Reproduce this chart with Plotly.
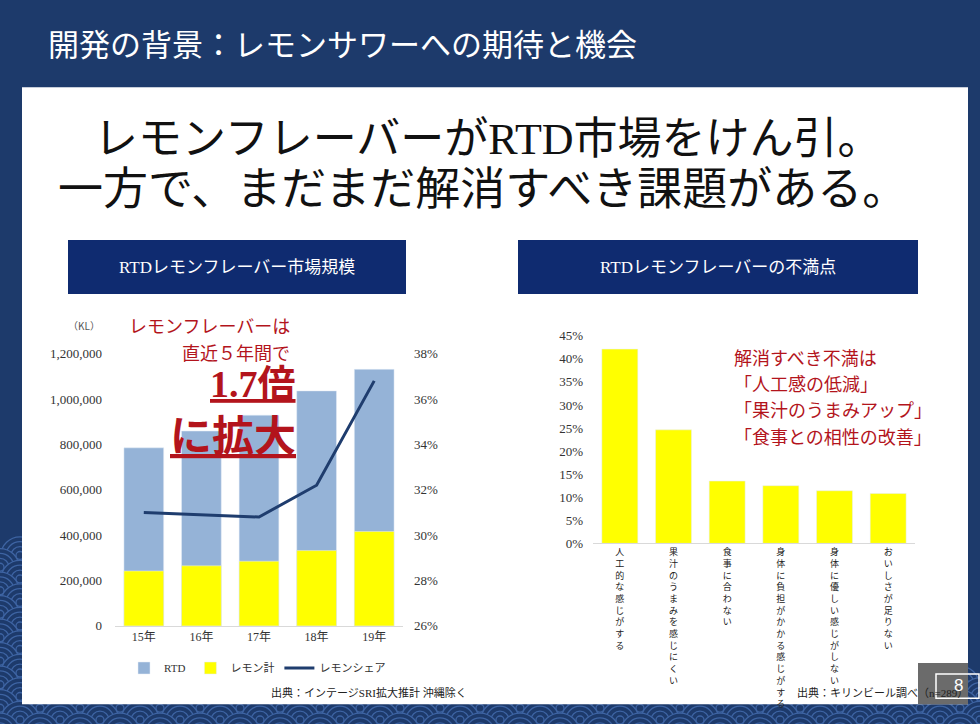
import plotly.graph_objects as go

W, H = 980, 724

# ---------------- data ----------------
years = ["15年", "16年", "17年", "18年", "19年"]
rtd_total = [785000, 859000, 929000, 1036000, 1131000]
lemon_total = [242000, 265000, 285000, 332000, 416000]
lemon_share = [0.310, 0.309, 0.308, 0.322, 0.368]

left_y_ticks = [0, 200000, 400000, 600000, 800000, 1000000, 1200000]
right_y_ticks = [0.26, 0.28, 0.30, 0.32, 0.34, 0.36, 0.38]

complaints = ["人工的な感じがする", "果汁のうまみを感じにくい", "食事に合わない",
              "身体に負担がかかる感じがする", "身体に優しい感じがしない", "おいしさが足りない"]
complaint_pct = [0.421, 0.246, 0.135, 0.125, 0.114, 0.108]
pct_ticks = [0, 0.05, 0.10, 0.15, 0.20, 0.25, 0.30, 0.35, 0.40, 0.45]

# ---------------- helpers ----------------
def px(x):
    return x / W

def py(y):
    return 1 - y / H

SERIF = "Liberation Serif, Noto Sans CJK JP"
JP = "Noto Sans CJK JP"
NAVY_BG = "#1d3a6b"
WAVE = "#3e64a3"
BOX = "#0f2b70"
RED = "#b3141c"
TXT = "#333333"

fig = go.Figure()

# left chart
fig.add_trace(go.Bar(x=years, y=rtd_total, name="RTD", marker_color="#95b3d7",
                     width=0.69, xaxis="x", yaxis="y"))
fig.add_trace(go.Bar(x=years, y=lemon_total, name="レモン計", marker_color="#ffff00",
                     width=0.69, xaxis="x", yaxis="y"))
fig.add_trace(go.Scatter(x=years, y=lemon_share, name="レモンシェア", mode="lines",
                         line=dict(color="#1f3d6e", width=3), xaxis="x", yaxis="y2"))

# right chart
vert_labels = ["<br>".join(list(s)) for s in complaints]
fig.add_trace(go.Bar(x=complaints, y=complaint_pct, marker_color="#ffff00", width=0.67,
                     showlegend=False, xaxis="x2", yaxis="y3"))

tickfont = dict(family=SERIF, size=13, color=TXT)

fig.update_layout(
    width=W, height=H,
    margin=dict(l=0, r=0, t=0, b=0),
    paper_bgcolor=NAVY_BG,
    plot_bgcolor="rgba(0,0,0,0)",
    barmode="overlay",
    showlegend=True,
    legend=dict(orientation="h", x=px(124), y=py(675), xanchor="left", yanchor="middle",
                font=dict(family=SERIF, size=11, color=TXT), bgcolor="rgba(0,0,0,0)",
                itemwidth=30, traceorder="normal"),
    xaxis=dict(domain=[px(115), px(403)], anchor="y", showgrid=False, showline=True,
               linecolor="#d9d9d9", linewidth=1, ticks="", tickfont=dict(family=SERIF, size=12, color=TXT),
               fixedrange=True),
    yaxis=dict(domain=[py(632), py(354)], range=[0, 1200000], tickvals=left_y_ticks,
               tickformat=",", showgrid=False, zeroline=False, showline=False,
               tickfont=tickfont, ticklabelstandoff=12),
    yaxis2=dict(overlaying="y", side="right", anchor="x", range=[0.26, 0.38],
                tickvals=right_y_ticks, tickformat=".0%", showgrid=False, zeroline=False,
                showline=False, tickfont=tickfont, ticklabelstandoff=10),
    xaxis2=dict(domain=[px(593), px(915)], anchor="y3", showgrid=False, showline=True,
                linecolor="#d9d9d9", linewidth=1, ticks="",
                tickvals=complaints, ticktext=vert_labels,
                tickfont=dict(family=JP, size=9, color="#222222")),
    yaxis3=dict(domain=[py(547.7), py(335.7)], range=[0, 0.45], tickvals=pct_ticks,
                tickformat=".0%", showgrid=False, zeroline=False, showline=False,
                tickfont=tickfont, ticklabelstandoff=9, anchor="x2"),
)

shapes = []
# decorative seigaiha waves on the navy frame (covered by the white panel)
for r, yc in enumerate(range(560, 752, 12)):
    off = 0 if r % 2 == 0 else 20
    for xc in range(-20 + off, 1010, 40):
        if not (xc < 60 or yc > 690):
            continue
        for rad in (19, 14, 9, 4):
            shapes.append(dict(type="circle", xref="paper", yref="paper",
                               x0=px(xc - rad), x1=px(xc + rad),
                               y0=py(yc + rad), y1=py(yc - rad),
                               fillcolor=NAVY_BG, line=dict(color=WAVE, width=1.3),
                               layer="below"))
# white panel
shapes.append(dict(type="rect", xref="paper", yref="paper", x0=px(22), x1=px(968),
                   y0=py(712), y1=py(82), fillcolor="white", line_width=0, layer="below"))
# header boxes
shapes.append(dict(type="rect", xref="paper", yref="paper", x0=px(68), x1=px(406),
                   y0=py(293), y1=py(238), fillcolor=BOX, line_width=0, layer="below"))
shapes.append(dict(type="rect", xref="paper", yref="paper", x0=px(518), x1=px(918),
                   y0=py(293), y1=py(238), fillcolor=BOX, line_width=0, layer="below"))
# page number box
shapes.append(dict(type="rect", xref="paper", yref="paper", x0=px(918), x1=px(968),
                   y0=py(712), y1=py(670), fillcolor="#6b6b6b", line_width=0, layer="above"))
shapes.append(dict(type="rect", xref="paper", yref="paper", x0=px(936), x1=px(979),
                   y0=py(706), y1=py(681), fillcolor="rgba(0,0,0,0)",
                   line=dict(color="white", width=1.5), layer="above"))
fig.update_layout(shapes=shapes)

ann = []
def add(text, x, y, size, color=TXT, family=JP, xanchor="left", yanchor="middle"):
    ann.append(dict(text=text, x=px(x), y=py(y), xref="paper", yref="paper",
                    showarrow=False, xanchor=xanchor, yanchor=yanchor,
                    font=dict(family=family, size=size, color=color)))

add("開発の背景：レモンサワーへの期待と機会", 46, 39, 31, color="white", family=SERIF)
add("レモンフレーバーがRTD市場をけん引。", 488, 135, 44, color="#111111", family=SERIF, xanchor="center")
add("一方で、まだまだ解消すべき課題がある。", 482, 187, 45, color="#111111", family=SERIF, xanchor="center")
add("RTDレモンフレーバー市場規模", 237, 266, 17, color="white", family=SERIF, xanchor="center")
add("RTDレモンフレーバーの不満点", 718, 266, 17, color="white", family=SERIF, xanchor="center")

add("（KL）", 84, 325, 10, color="#555555", xanchor="center")
add("レモンフレーバーは", 292, 325, 18, color=RED, xanchor="right")
add("直近５年間で", 292, 352, 18, color=RED, xanchor="right")
add("<b><u>1.7倍</u></b>", 298, 385, 38, color=RED, family=SERIF, xanchor="right")
add("<b><u>に拡大</u></b>", 298, 434, 42, color=RED, xanchor="right")

add("解消すべき不満は", 732, 357, 18, color=RED)
add("「人工感の低減」", 732, 384, 18, color=RED)
add("「果汁のうまみアップ」", 732, 410, 18, color=RED)
add("「食事との相性の改善」", 732, 438, 18, color=RED)

add("出典：インテージSRI拡大推計 沖縄除く", 469, 700, 11, color="#222222", family=SERIF, xanchor="right")
add("出典：キリンビール調べ（n=289）", 795, 700, 11, color="#222222", family=SERIF)
add("8", 958, 693, 17, color="white", family="Liberation Sans", xanchor="center")

fig.update_layout(annotations=ann)

fig.write_html("out.html", config={"displayModeBar": False},
               post_script="document.body.style.margin='0';document.body.style.overflow='hidden';")
